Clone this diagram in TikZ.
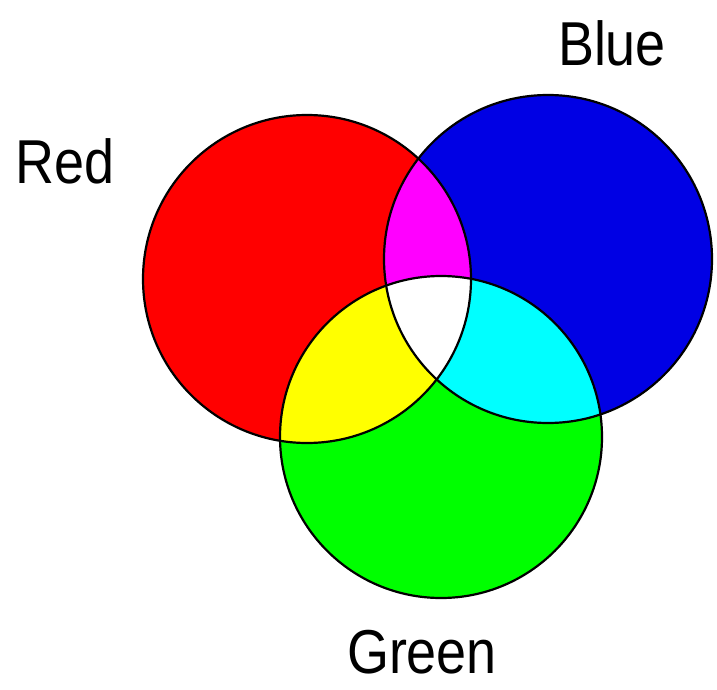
\documentclass[tikz,border=0pt]{standalone}
\usepackage{fontspec}
\setmainfont{Liberation Sans}
\newfontfamily\labfont[FakeStretch=0.87]{Liberation Sans}
\usepackage{tikz}
\definecolor{rgbred}{RGB}{255,0,0}
\definecolor{rgbblue}{RGB}{0,0,228}
\definecolor{rgbgreen}{RGB}{0,255,0}
\definecolor{rgbyellow}{RGB}{255,255,0}
\definecolor{rgbmagenta}{RGB}{255,0,255}
\definecolor{rgbcyan}{RGB}{0,255,255}
\newcommand{\circR}{(307,279) circle[radius=164]}
\newcommand{\circB}{(548,259) circle[radius=164]}
\newcommand{\circG}{(441,437) circle[radius=161]}

\begin{document}
\begin{tikzpicture}[x=1pt,y=-1pt,
  lab/.style={anchor=base,inner sep=0pt,font=\labfont\fontsize{62}{66}\selectfont},
  rim/.style={draw=black,line width=2.2pt}]
\useasboundingbox (0,0) rectangle (717,690);
 \fill[rgbred] \circR; \fill[rgbblue] \circB; \fill[rgbgreen] \circG;
\begin{scope}
 \clip \circR; \fill[rgbmagenta] \circB; \fill[rgbyellow] \circG;
\end{scope}
\begin{scope}
 \clip \circB; \fill[rgbcyan] \circG;
\end{scope}
\begin{scope}
 \clip \circR; \clip \circB; \fill[white] \circG;
\end{scope}
 \draw[rim] \circR; \draw[rim] \circB; \draw[rim] \circG;
 \node[lab] (red) at (65,183) {Red};
 \node[lab] (blue) at (612,66) {Blue};
 \node[lab] (green) at (422,673) {Green};
\end{tikzpicture}
\end{document}
